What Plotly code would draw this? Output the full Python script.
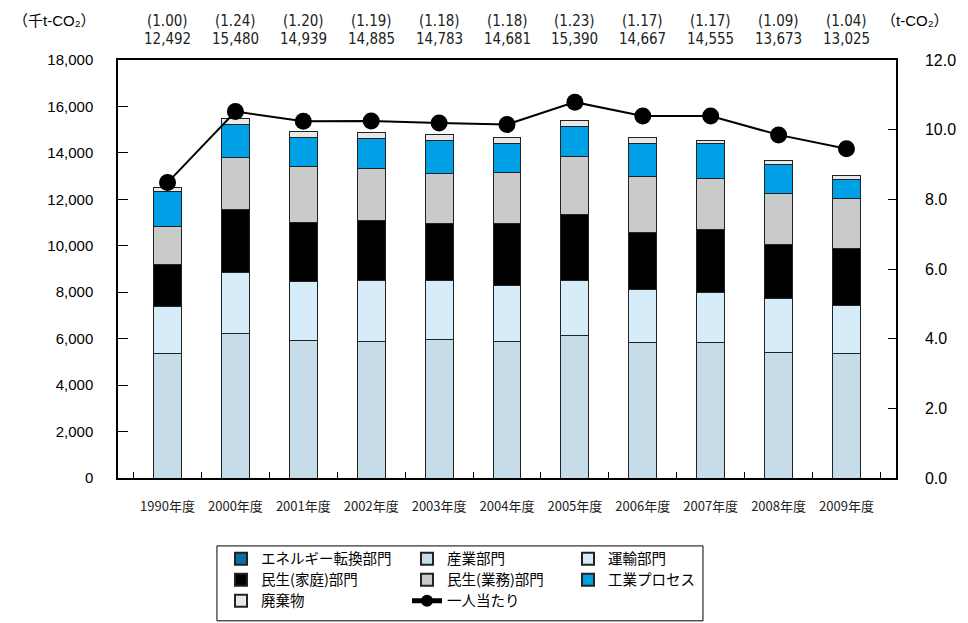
import plotly.graph_objects as go

years = ["1990年度", "2000年度", "2001年度", "2002年度", "2003年度", "2004年度",
         "2005年度", "2006年度", "2007年度", "2008年度", "2009年度"]

energy = [0, 0, 0, 0, 0, 0, 0, 0, 0, 0, 0]
industry = [5356, 6228, 5928, 5874, 5968, 5863, 6118, 5847, 5827, 5415, 5382]
transport = [2009, 2626, 2517, 2638, 2535, 2426, 2396, 2276, 2171, 2329, 2060]
household = [1838, 2696, 2575, 2595, 2478, 2682, 2839, 2447, 2685, 2315, 2443]
commercial = [1639, 2270, 2391, 2239, 2151, 2183, 2510, 2433, 2200, 2186, 2159]
process = [1496, 1391, 1259, 1254, 1381, 1270, 1270, 1394, 1542, 1243, 796]
waste = [154, 269, 269, 285, 270, 257, 257, 270, 130, 185, 185]
per_capita = [8.48, 10.52, 10.24, 10.25, 10.19, 10.15, 10.79, 10.39, 10.39, 9.85, 9.45]

totals = ["12,492", "15,480", "14,939", "14,885", "14,783", "14,681",
          "15,390", "14,667", "14,555", "13,673", "13,025"]
ratios = ["(1.00)", "(1.24)", "(1.20)", "(1.19)", "(1.18)", "(1.18)",
          "(1.23)", "(1.17)", "(1.17)", "(1.09)", "(1.04)"]

series = [
    ("エネルギー転換部門", energy, "#0b6fa3", "legend", 141),
    ("産業部門", industry, "#c6dde9", "legend", 116),
    ("運輸部門", transport, "#d6ecf8", "legend", 110),
    ("民生(家庭)部門", household, "#000000", "legend2", 141),
    ("民生(業務)部門", commercial, "#c9caca", "legend2", 116),
    ("工業プロセス", process, "#00a0e6", "legend2", 110),
    ("廃棄物", waste, "#e8e8e8", "legend3", 141),
]

SANS = "Liberation Sans, Arial, Noto Sans CJK JP, sans-serif"
NARROW = "Liberation Sans Narrow, DejaVu Sans Condensed, Liberation Sans, Noto Sans CJK JP, sans-serif"
CJK = "Noto Sans CJK JP, sans-serif"

fig = go.Figure()
for name, vals, color, lg, lw in series:
    fig.add_trace(go.Bar(
        x=years, y=vals, name=name, legend=lg, legendwidth=lw,
        marker=dict(color=color, line=dict(color="#222222", width=1)),
    ))

fig.add_trace(go.Scatter(
    x=years, y=per_capita, name="一人当たり", yaxis="y2", legend="legend3",
    legendwidth=110,
    mode="lines+markers", line=dict(color="black", width=2),
    marker=dict(color="black", size=17),
))

annotations = []
for yr, r, t in zip(years, ratios, totals):
    annotations.append(dict(x=yr, y=1.094, xref="x", yref="paper", text=r,
                            showarrow=False, xanchor="center", yanchor="middle",
                            font=dict(family=NARROW, size=15, color="#222")))
    annotations.append(dict(x=yr, y=1.051, xref="x", yref="paper", text=t,
                            showarrow=False, xanchor="center", yanchor="middle",
                            font=dict(family=NARROW, size=15, color="#222")))
annotations.append(dict(x=-0.081, y=1.094, xref="paper", yref="paper",
                        text="（千t-CO₂）", showarrow=False, xanchor="center",
                        yanchor="middle",
                        font=dict(family=SANS, size=15, color="black")))
annotations.append(dict(x=1.0244, y=1.094, xref="paper", yref="paper",
                        text="（t-CO₂）", showarrow=False, xanchor="center",
                        yanchor="middle",
                        font=dict(family=SANS, size=15, color="black")))

leg_common = dict(orientation="h", xanchor="left", yanchor="middle", x=0.1324,
                  bgcolor="rgba(0,0,0,0)", borderwidth=0, traceorder="normal",
                  itemsizing="constant",
                  font=dict(family=CJK, size=14.5, color="black"))

fig.update_layout(
    width=968, height=623,
    margin=dict(l=110, r=80, t=52, b=153, autoexpand=False),
    paper_bgcolor="white", plot_bgcolor="white",
    barmode="stack", bargap=0.59,
    font=dict(family=SANS, size=15, color="black"),
    xaxis=dict(showline=True, linecolor="black", linewidth=1.5, mirror=True,
               ticks="inside", tickson="boundaries", ticklen=6, tickcolor="black",
               showgrid=False, tickangle=0,
               tickfont=dict(family=CJK, size=13, color="#222"),
               ticklabelstandoff=16),
    yaxis=dict(range=[0, 18000], dtick=2000, tickformat=",", ticks="inside",
               ticklen=10, tickcolor="black", showline=True, linecolor="black",
               linewidth=1.5, showgrid=False, zeroline=False,
               tickfont=dict(family=SANS, size=15), ticklabelstandoff=20),
    yaxis2=dict(range=[0, 12], dtick=2, tickformat=".1f", overlaying="y",
                side="right", ticks="inside", ticklen=8, tickcolor="black",
                showline=True, linecolor="black", linewidth=1.5, showgrid=False,
                zeroline=False, tickfont=dict(family=SANS, size=16),
                ticklabelstandoff=24),
    legend=dict(leg_common, y=-0.1935),
    legend2=dict(leg_common, y=-0.2437),
    legend3=dict(leg_common, y=-0.2939),
    annotations=annotations,
    shapes=[dict(type="rect", xref="paper", yref="paper", x0=0.1272, x1=0.7519,
                 y0=-0.1625, y1=-0.3417, line=dict(color="black", width=1))],
    showlegend=True,
)

fig.write_html("out.html")
